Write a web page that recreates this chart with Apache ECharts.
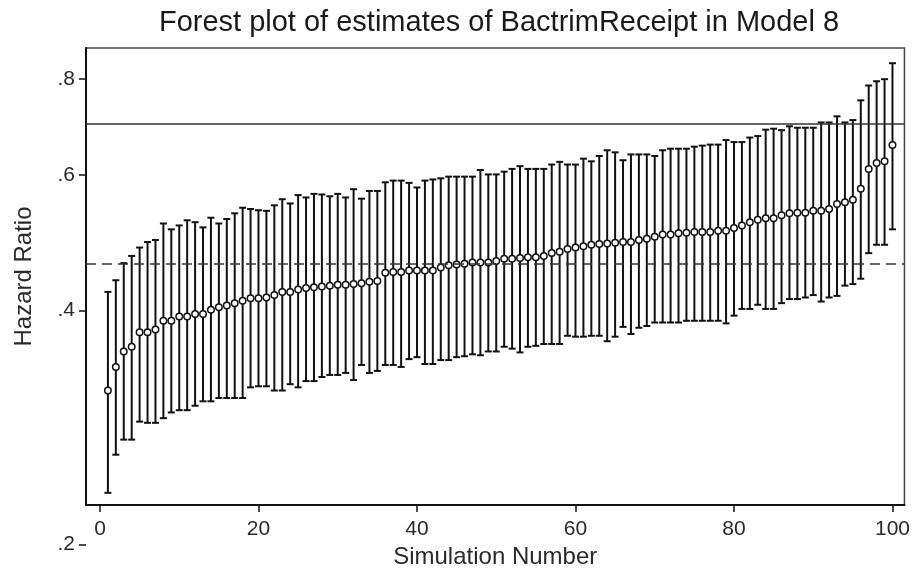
<!DOCTYPE html>
<html><head><meta charset="utf-8">
<script src="https://cdn.jsdelivr.net/npm/echarts@6/dist/echarts.min.js"></script>
<style>html,body{margin:0;padding:0;background:#fff}#c{width:913px;height:574px}</style>
</head><body><div id="c"></div>
<script>
const simNumbers = [1,2,3,4,5,6,7,8,9,10,11,12,13,14,15,16,17,18,19,20,21,22,23,24,25,26,27,28,29,30,31,32,33,34,35,36,37,38,39,40,41,42,43,44,45,46,47,48,49,50,51,52,53,54,55,56,57,58,59,60,61,62,63,64,65,66,67,68,69,70,71,72,73,74,75,76,77,78,79,80,81,82,83,84,85,86,87,88,89,90,91,92,93,94,95,96,97,98,99,100];
const estimates = [0.315,0.338,0.354,0.359,0.375,0.375,0.378,0.388,0.388,0.393,0.393,0.396,0.396,0.401,0.404,0.406,0.409,0.412,0.415,0.415,0.416,0.419,0.423,0.423,0.426,0.428,0.429,0.430,0.431,0.432,0.432,0.433,0.434,0.436,0.437,0.448,0.449,0.449,0.451,0.451,0.451,0.451,0.455,0.458,0.459,0.460,0.462,0.462,0.462,0.464,0.467,0.467,0.468,0.469,0.469,0.471,0.475,0.477,0.481,0.483,0.485,0.487,0.488,0.489,0.490,0.491,0.491,0.494,0.496,0.499,0.502,0.502,0.504,0.505,0.506,0.506,0.506,0.508,0.508,0.512,0.516,0.521,0.525,0.527,0.527,0.532,0.535,0.536,0.536,0.539,0.539,0.542,0.550,0.553,0.557,0.576,0.611,0.622,0.625,0.656];
const lowerCI = [0.232,0.260,0.272,0.272,0.287,0.286,0.286,0.290,0.295,0.297,0.297,0.301,0.305,0.305,0.308,0.308,0.308,0.308,0.318,0.319,0.319,0.315,0.315,0.321,0.318,0.324,0.324,0.328,0.330,0.330,0.332,0.325,0.340,0.332,0.334,0.340,0.340,0.338,0.346,0.348,0.341,0.341,0.345,0.345,0.348,0.349,0.351,0.350,0.354,0.354,0.359,0.357,0.353,0.359,0.360,0.362,0.362,0.362,0.371,0.370,0.370,0.371,0.371,0.365,0.370,0.381,0.373,0.380,0.382,0.386,0.386,0.386,0.386,0.388,0.388,0.388,0.388,0.388,0.385,0.394,0.402,0.402,0.407,0.402,0.402,0.409,0.414,0.414,0.416,0.419,0.411,0.416,0.418,0.431,0.433,0.440,0.475,0.487,0.487,0.510];
const upperCI = [0.423,0.438,0.461,0.471,0.483,0.491,0.494,0.519,0.510,0.516,0.524,0.521,0.513,0.528,0.519,0.526,0.535,0.544,0.542,0.540,0.539,0.548,0.558,0.551,0.565,0.561,0.567,0.566,0.563,0.567,0.561,0.575,0.559,0.572,0.572,0.587,0.590,0.590,0.586,0.578,0.590,0.592,0.594,0.597,0.597,0.597,0.597,0.609,0.601,0.601,0.606,0.611,0.616,0.611,0.611,0.611,0.619,0.624,0.619,0.619,0.630,0.625,0.635,0.646,0.642,0.627,0.638,0.638,0.638,0.635,0.646,0.649,0.649,0.649,0.653,0.655,0.657,0.657,0.666,0.662,0.662,0.671,0.674,0.687,0.689,0.686,0.694,0.691,0.691,0.691,0.702,0.702,0.715,0.702,0.707,0.750,0.784,0.794,0.799,0.838];
const xTicks = [0,20,40,60,80,100];
const yTicks = [0.4,0.6,0.8];
const yTicksLow = [0.2];
const refSolid = 0.70;
const refDashed = 0.463;

const FONT = '"Liberation Sans", Arial, sans-serif';
const chart = echarts.init(document.getElementById('c'), null, {renderer:'canvas'});
const fmt = v => Number(v).toFixed(1).replace(/^0/, '');
const tickStyle = {color:'#111', width:1.5};
const labelStyle = {fontFamily:FONT, fontSize:21, color:'#2a2a2a'};

const option = {
  animation:false,
  backgroundColor:'#fff',
  title:{text:'Forest plot of estimates of BactrimReceipt in Model 8', left:494, top:3, textAlign:'center',
    textStyle:{fontFamily:FONT, fontSize:29, fontWeight:'normal', color:'#1a1a1a'}},
  grid:[
    {left:86, right:8, top:48, bottom:67, show:true, borderColor:'#444', borderWidth:1.5, backgroundColor:'#fff'},
    {left:86, right:8, top:48, bottom:29.6, show:false}
  ],
  xAxis:[
    {type:'value', gridIndex:0, min:-1.765, max:101.51,
     name:'Simulation Number', nameLocation:'middle', nameGap:40,
     nameTextStyle:{fontFamily:FONT, fontSize:24, color:'#2a2a2a'},
     axisLine:{show:true, onZero:false, lineStyle:{color:'#111', width:2}},
     axisTick:{show:true, length:7, customValues:xTicks, lineStyle:tickStyle},
     axisLabel:Object.assign({customValues:xTicks, margin:14}, labelStyle),
     splitLine:{show:false}},
    {type:'value', gridIndex:1, min:-1.765, max:101.51, show:false}
  ],
  yAxis:[
    {type:'log', gridIndex:0, logBase:10, min:0.2237, max:0.877,
     name:'Hazard Ratio', nameLocation:'middle', nameGap:50, nameRotate:90,
     nameTextStyle:{fontFamily:FONT, fontSize:24, color:'#2a2a2a'},
     axisLine:{show:true, onZero:false, lineStyle:{color:'#111', width:2}},
     axisTick:{show:true, length:7, customValues:yTicks, lineStyle:tickStyle},
     axisLabel:Object.assign({customValues:yTicks, margin:11, formatter:fmt}, labelStyle),
     splitLine:{show:false}},
    {type:'log', gridIndex:1, logBase:10, min:0.2, max:0.877,
     axisLine:{show:false, onZero:false},
     axisTick:{show:true, length:7, customValues:yTicksLow, lineStyle:tickStyle},
     axisLabel:Object.assign({customValues:yTicksLow, margin:11, formatter:fmt}, labelStyle),
     splitLine:{show:false}}
  ],
  series:[
    {type:'custom', xAxisIndex:0, yAxisIndex:0, encode:{x:0, y:[1,2]},
     data:simNumbers.map((s,i)=>[s, lowerCI[i], upperCI[i]]),
     renderItem:function(params, api){
       const x = api.value(0), lo = api.value(1), hi = api.value(2);
       const a = api.coord([x, lo]), b = api.coord([x, hi]);
       const hw = 3.5;
       const st = {stroke:'#111', lineWidth:2, fill:null};
       return {type:'group', children:[
         {type:'line', shape:{x1:a[0], y1:a[1], x2:b[0], y2:b[1]}, style:st},
         {type:'line', shape:{x1:a[0]-hw, y1:a[1], x2:a[0]+hw, y2:a[1]}, style:st},
         {type:'line', shape:{x1:b[0]-hw, y1:b[1], x2:b[0]+hw, y2:b[1]}, style:st}
       ]};
     }, z:2},
    {type:'scatter', xAxisIndex:0, yAxisIndex:0,
     data:simNumbers.map((s,i)=>[s, estimates[i]]),
     symbol:'circle', symbolSize:6.5,
     itemStyle:{color:'#fff', borderColor:'#111', borderWidth:1.5, opacity:1}, z:3,
     markLine:{silent:true, symbol:['none','none'], label:{show:false},
       data:[
         {yAxis:refSolid, lineStyle:{type:'solid', color:'#333', width:1.5}},
         {yAxis:refDashed, lineStyle:{type:[10,6], color:'#333', width:1.5}}
       ]}}
  ]
};
chart.setOption(option);
</script>
</body></html>
